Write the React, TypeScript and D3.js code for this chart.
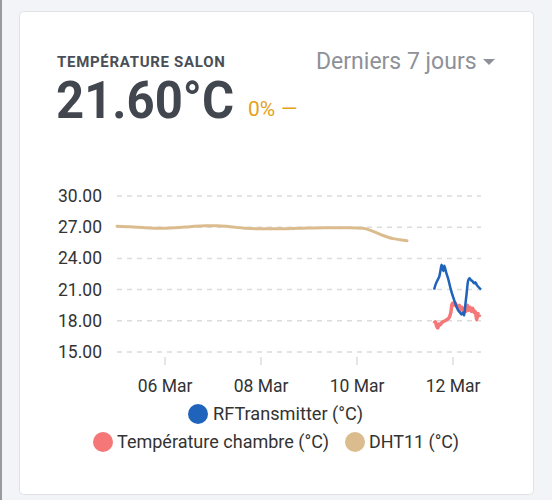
import React from "react";
import * as d3 from "d3";

const W = 552;
const H = 500;

// hours since 2021-03-05 00:00
const dhtHours = [0, 6.5, 14, 21.5, 29, 36.5, 44, 50, 56.5, 64, 70, 79, 91.5, 104, 116.5, 123, 128, 133, 138, 141.5, 145];
const dhtValues = [27.1, 27.05, 26.95, 26.9, 26.95, 27.05, 27.15, 27.15, 27.05, 26.9, 26.85, 26.85, 26.9, 26.95, 26.95, 26.9, 26.6, 26.2, 25.9, 25.8, 25.7];

const rfHours = [158.5, 159.5, 160.5, 161.2, 161.8, 162.3, 162.8, 163.2, 163.6, 164.0, 164.5, 165.5, 166.8, 168.2, 169.5, 170.6, 171.5, 172.3, 173.0, 173.6, 174.2, 174.8, 175.5, 176.3, 177.0, 177.8, 178.5, 179.2, 180.0, 181.0, 182.0];
const rfValues = [21.0, 21.6, 22.0, 22.3, 22.9, 23.4, 23.0, 22.8, 23.3, 23.1, 22.7, 22.1, 21.1, 20.2, 19.5, 19.0, 18.8, 18.6, 18.8, 18.5, 19.6, 20.6, 21.8, 22.1, 21.9, 21.8, 21.6, 21.7, 21.4, 21.2, 21.0];

const chHours = [158.5, 159.2, 159.8, 160.4, 161.0, 161.6, 162.3, 163.0, 164.0, 164.8, 165.6, 166.3, 167.0, 167.5, 168.0, 168.6, 169.2, 169.8, 170.5, 171.2, 171.8, 172.5, 173.2, 173.8, 174.5, 175.2, 175.8, 176.5, 177.2, 177.8, 178.5, 179.2, 179.8, 180.5, 181.0, 181.5];
const chValues = [17.75, 17.9, 17.5, 17.3, 17.7, 17.6, 17.8, 17.9, 18.0, 18.1, 18.2, 18.4, 18.9, 19.6, 19.7, 19.5, 19.7, 19.4, 19.2, 19.5, 19.0, 19.3, 18.9, 19.2, 18.9, 19.5, 19.0, 19.3, 18.9, 19.2, 18.8, 18.9, 18.1, 18.7, 18.5, 18.6];

const yTicks = [15, 18, 21, 24, 27, 30];
const xTickHours = [24, 72, 120, 168];
const xTickLabels = ["06 Mar", "08 Mar", "10 Mar", "12 Mar"];

const seriesNames = ["RFTransmitter (°C)", "Température chambre (°C)", "DHT11 (°C)"];
const colors = ["#1f63bb", "#f57777", "#dbbc8e"];

const FONT = "Roboto, 'Noto Sans', sans-serif";

export default function App() {
  const x = d3.scaleLinear().domain([0, 182]).range([117, 481]);
  const y = d3.scaleLinear().domain([15, 30]).range([352, 196]);
  const line = d3
    .line<[number, number]>()
    .x((d) => x(d[0]))
    .y((d) => y(d[1]))
    .curve(d3.curveMonotoneX);

  const zip = (a: number[], b: number[]) => a.map((v, i) => [v, b[i]] as [number, number]);

  return (
    <svg
      width={W}
      height={H}
      style={{ position: "absolute", left: 0, top: 0, fontFamily: FONT }}
    >
      <rect x={0} y={0} width={W} height={H} fill="#f3f4f8" />
      <rect x={0} y={0} width={2} height={H} fill="#9a9a9a" />
      <rect x={19.5} y={11.5} width={514} height={483} rx={4} fill="#ffffff" stroke="#dfe1e5" />

      <text x={57} y={67} fontSize={15} fontWeight={700} fill="#4a4f57" letterSpacing={0.7}>
        TEMPÉRATURE SALON
      </text>
      <text x={56} y={118} fontSize={51} fontWeight={700} fill="#42474f" textLength={178} lengthAdjust="spacingAndGlyphs">
        21.60°C
      </text>
      <text x={248} y={116} fontSize={21} fill="#e3a21a">
        0%
      </text>
      <text x={281} y={116} fontSize={21} fill="#e3a21a">
        —
      </text>
      <text x={316} y={69} fontSize={23} fill="#8e9198">
        Derniers 7 jours
      </text>
      <path d="M483,59 L495,59 L489,65 Z" fill="#8e9198" />

      {yTicks.map((t) => (
        <g key={t}>
          <line
            x1={117}
            x2={481}
            y1={y(t)}
            y2={y(t)}
            stroke="#dcdcdc"
            strokeWidth={1.5}
            strokeDasharray="5 5"
          />
          <text x={102} y={y(t) + 6} textAnchor="end" fontSize={17.5} fill="#333">
            {d3.format(".2f")(t)}
          </text>
        </g>
      ))}

      {xTickHours.map((h, i) => (
        <g key={h}>
          <line x1={x(h)} x2={x(h)} y1={357} y2={365} stroke="#dcdcdc" strokeWidth={1.5} />
          <text x={x(h)} y={392} textAnchor="middle" fontSize={17.5} fill="#333">
            {xTickLabels[i]}
          </text>
        </g>
      ))}

      <path d={line(zip(dhtHours, dhtValues)) || ""} fill="none" stroke={colors[2]} strokeWidth={3} strokeLinecap="round" />
      <path d={line(zip(chHours, chValues)) || ""} fill="none" stroke={colors[1]} strokeWidth={3.5} strokeLinejoin="round" />
      <path d={line(zip(rfHours, rfValues)) || ""} fill="none" stroke={colors[0]} strokeWidth={2.5} strokeLinejoin="round" />

      <circle cx={198} cy={414} r={10} fill={colors[0]} />
      <text x={213} y={420} fontSize={18} fill="#333" textLength={150} lengthAdjust="spacingAndGlyphs">{seriesNames[0]}</text>
      <circle cx={103} cy={442} r={10} fill={colors[1]} />
      <text x={117} y={448} fontSize={18} fill="#333" textLength={212} lengthAdjust="spacingAndGlyphs">{seriesNames[1]}</text>
      <circle cx={355} cy={442} r={10} fill={colors[2]} />
      <text x={369} y={448} fontSize={18} fill="#333" textLength={90} lengthAdjust="spacingAndGlyphs">{seriesNames[2]}</text>
    </svg>
  );
}
